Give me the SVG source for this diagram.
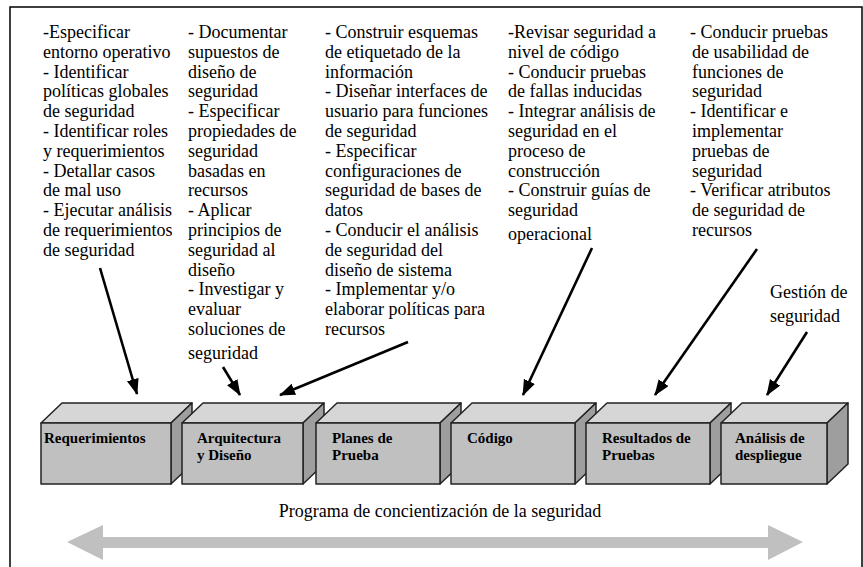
<svg xmlns="http://www.w3.org/2000/svg" width="863" height="567" viewBox="0 0 863 567">
<style>
text{font-family:'Liberation Serif','Times New Roman',serif}
.t{font-size:18px;fill:#000}
.b{font-size:15px;font-weight:bold;fill:#000}
.front{fill:#c0c0c0;stroke:#222;stroke-width:1.5;stroke-linejoin:round}
.top{fill:#d6d6d6;stroke:#222;stroke-width:1.5;stroke-linejoin:round}
.side{fill:#9e9e9e;stroke:#222;stroke-width:1.5;stroke-linejoin:round}
.arr{stroke:#000;stroke-width:2.6;fill:none}
</style>
<defs>
<marker id="ah" markerUnits="userSpaceOnUse" markerWidth="18" markerHeight="14" refX="15" refY="6" orient="auto">
<path d="M0,0 L16,6 L0,12 Z" fill="#000"/>
</marker>
</defs>
<rect x="0" y="0" width="863" height="567" fill="#fff"/>
<path d="M10,570 V7 H862 V570" fill="none" stroke="#000" stroke-width="1.5"/>

<g id="col1">
<text class="t" x="43" y="38">
<tspan x="43" dy="0">-Especificar</tspan>
<tspan x="43" dy="19.8">entorno operativo</tspan>
<tspan x="43" dy="19.8">- Identificar</tspan>
<tspan x="43" dy="19.8">políticas globales</tspan>
<tspan x="43" dy="19.8">de seguridad</tspan>
<tspan x="43" dy="19.8">- Identificar roles</tspan>
<tspan x="43" dy="19.8">y requerimientos</tspan>
<tspan x="43" dy="19.8">- Detallar casos</tspan>
<tspan x="43" dy="19.8">de mal uso</tspan>
<tspan x="43" dy="19.8">- Ejecutar análisis</tspan>
<tspan x="43" dy="19.8">de requerimientos</tspan>
<tspan x="43" dy="19.8">de seguridad</tspan>
</text>
</g>
<g id="col2">
<text class="t" x="188" y="38">
<tspan x="188" dy="0">- Documentar</tspan>
<tspan x="188" dy="19.8">supuestos de</tspan>
<tspan x="188" dy="19.8">diseño de</tspan>
<tspan x="188" dy="19.8">seguridad</tspan>
<tspan x="188" dy="19.8">- Especificar</tspan>
<tspan x="188" dy="19.8">propiedades de</tspan>
<tspan x="188" dy="19.8">seguridad</tspan>
<tspan x="188" dy="19.8">basadas en</tspan>
<tspan x="188" dy="19.8">recursos</tspan>
<tspan x="188" dy="19.8">- Aplicar</tspan>
<tspan x="188" dy="19.8">principios de</tspan>
<tspan x="188" dy="19.8">seguridad al</tspan>
<tspan x="188" dy="19.8">diseño</tspan>
<tspan x="188" dy="19.8">- Investigar y</tspan>
<tspan x="188" dy="19.8">evaluar</tspan>
<tspan x="188" dy="19.8">soluciones de</tspan>
<tspan x="188" dy="24">seguridad</tspan>
</text>
</g>
<g id="col3">
<text class="t" x="325" y="38">
<tspan x="325" dy="0">- Construir esquemas</tspan>
<tspan x="325" dy="19.8">de etiquetado de la</tspan>
<tspan x="325" dy="19.8">información</tspan>
<tspan x="325" dy="19.8">- Diseñar interfaces de</tspan>
<tspan x="325" dy="19.8">usuario para funciones</tspan>
<tspan x="325" dy="19.8">de seguridad</tspan>
<tspan x="325" dy="19.8">- Especificar</tspan>
<tspan x="325" dy="19.8">configuraciones de</tspan>
<tspan x="325" dy="19.8">seguridad de bases de</tspan>
<tspan x="325" dy="19.8">datos</tspan>
<tspan x="325" dy="19.8">- Conducir el análisis</tspan>
<tspan x="325" dy="19.8">de seguridad del</tspan>
<tspan x="325" dy="19.8">diseño de sistema</tspan>
<tspan x="325" dy="19.8">- Implementar y/o</tspan>
<tspan x="325" dy="19.8">elaborar políticas para</tspan>
<tspan x="325" dy="19.8">recursos</tspan>
</text>
</g>
<g id="col4">
<text class="t" x="508" y="38">
<tspan x="508" dy="0">-Revisar seguridad a</tspan>
<tspan x="508" dy="19.8">nivel de código</tspan>
<tspan x="508" dy="19.8">- Conducir pruebas</tspan>
<tspan x="508" dy="19.8">de fallas inducidas</tspan>
<tspan x="508" dy="19.8">- Integrar análisis de</tspan>
<tspan x="508" dy="19.8">seguridad en el</tspan>
<tspan x="508" dy="19.8">proceso de</tspan>
<tspan x="508" dy="19.8">construcción</tspan>
<tspan x="508" dy="19.8">- Construir guías de</tspan>
<tspan x="508" dy="19.8">seguridad</tspan>
<tspan x="508" dy="24">operacional</tspan>
</text>
</g>
<g id="col5">
<text class="t" x="690" y="38">
<tspan x="690" dy="0">- Conducir pruebas</tspan>
<tspan x="692" dy="19.8">de usabilidad de</tspan>
<tspan x="692" dy="19.8">funciones de</tspan>
<tspan x="692" dy="19.8">seguridad</tspan>
<tspan x="690" dy="19.8">- Identificar e</tspan>
<tspan x="692" dy="19.8">implementar</tspan>
<tspan x="692" dy="19.8">pruebas de</tspan>
<tspan x="692" dy="19.8">seguridad</tspan>
<tspan x="690" dy="19.8">- Verificar atributos</tspan>
<tspan x="692" dy="19.8">de seguridad de</tspan>
<tspan x="692" dy="19.8">recursos</tspan>
</text>
</g>
<g id="gestion">
<text class="t" x="770" y="298">Gestión de</text>
<text class="t" x="770" y="322">seguridad</text>
</g>

<g id="connectors">
<line class="arr" x1="100" y1="268" x2="137" y2="394" marker-end="url(#ah)"/>
<line class="arr" x1="223" y1="367" x2="240" y2="395" marker-end="url(#ah)"/>
<line class="arr" x1="408" y1="342" x2="280" y2="395" marker-end="url(#ah)"/>
<line class="arr" x1="592" y1="248" x2="523" y2="395" marker-end="url(#ah)"/>
<line class="arr" x1="757" y1="249" x2="655" y2="395" marker-end="url(#ah)"/>
<line class="arr" x1="807" y1="332" x2="767" y2="395" marker-end="url(#ah)"/>
</g>

<g id="requerimientos">
<polygon class="top" points="41,423 62,403 192,403 171,423"/>
<polygon class="side" points="171,423 192,403 192,464 171,484"/>
<rect class="front" x="41" y="423" width="130" height="61"/>
<text class="b" x="44" y="443">Requerimientos</text>
</g>
<g id="arquitectura">
<polygon class="top" points="182,423 203,403 324,403 303,423"/>
<polygon class="side" points="303,423 324,403 324,464 303,484"/>
<rect class="front" x="182" y="423" width="121" height="61"/>
<text class="b" x="197" y="443">Arquitectura</text>
<text class="b" x="197" y="460">y Diseño</text>
</g>
<g id="planes">
<polygon class="top" points="316,423 337,403 461,403 440,423"/>
<polygon class="side" points="440,423 461,403 461,464 440,484"/>
<rect class="front" x="316" y="423" width="124" height="61"/>
<text class="b" x="332" y="443">Planes de</text>
<text class="b" x="332" y="460">Prueba</text>
</g>
<g id="codigo">
<polygon class="top" points="451,423 472,403 596,403 575,423"/>
<polygon class="side" points="575,423 596,403 596,464 575,484"/>
<rect class="front" x="451" y="423" width="124" height="61"/>
<text class="b" x="467" y="443">Código</text>
</g>
<g id="resultados">
<polygon class="top" points="586,423 607,403 731,403 710,423"/>
<polygon class="side" points="710,423 731,403 731,464 710,484"/>
<rect class="front" x="586" y="423" width="124" height="61"/>
<text class="b" x="602" y="443">Resultados de</text>
<text class="b" x="602" y="460">Pruebas</text>
</g>
<g id="analisis">
<polygon class="top" points="721,423 742,403 848,403 827,423"/>
<polygon class="side" points="827,423 848,403 848,464 827,484"/>
<rect class="front" x="721" y="423" width="106" height="61"/>
<text class="b" x="735" y="443">Análisis de</text>
<text class="b" x="735" y="460">despliegue</text>
</g>

<g id="programa">
<text class="t" x="440" y="517" text-anchor="middle">Programa de concientización de la seguridad</text>
<polygon fill="#c0c0c0" points="67,542 103,525 103,537 768,537 768,525 803,542 768,560 768,548 103,548 103,560"/>
</g>
</svg>
